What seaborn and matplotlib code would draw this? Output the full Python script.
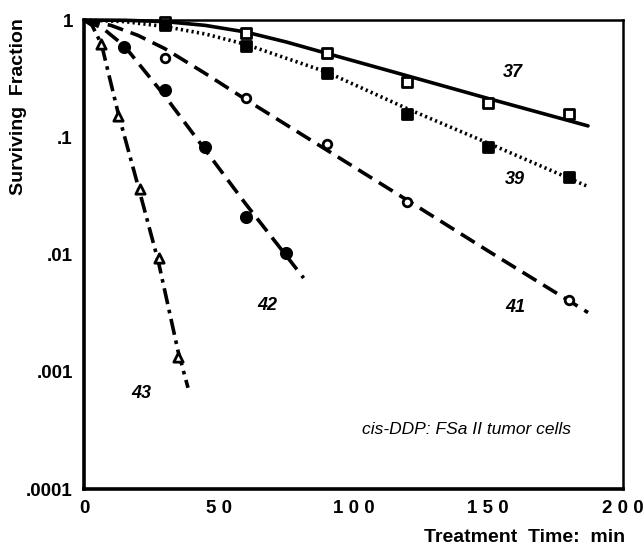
import seaborn as sns
import matplotlib.pyplot as plt
import numpy as np
import pandas as pd
from matplotlib.ticker import LogLocator, MultipleLocator, NullFormatter

sns.set_theme(style='white')
plt.rcParams['font.family'] = ['Liberation Sans', 'DejaVu Sans']
plt.rcParams['text.color'] = 'black'
plt.rcParams['xtick.color'] = 'black'
plt.rcParams['ytick.color'] = 'black'

# measured points (treatment time in min, surviving fraction)
t37 = [0, 30, 60, 90, 120, 150, 180]
s37 = [1.0, 0.97, 0.775, 0.52, 0.296, 0.197, 0.158]
t39 = [0, 30, 60, 90, 120, 150, 180]
s39 = [1.0, 0.90, 0.60, 0.355, 0.158, 0.083, 0.046]
t41 = [0, 30, 60, 90, 120, 180]
s41 = [1.0, 0.475, 0.217, 0.088, 0.028, 0.0041]
t42 = [0, 15, 30, 45, 60, 75]
s42 = [1.0, 0.59, 0.254, 0.082, 0.0207, 0.0104]
t43 = [0, 6.5, 12.7, 20.7, 27.7, 34.9]
s43 = [1.0, 0.62, 0.152, 0.036, 0.0094, 0.00133]

# fitted curves
ft37 = [0, 15, 30, 45, 60, 75, 90, 120, 150, 187]
fs37 = [1.0, 0.995, 0.97, 0.90, 0.79, 0.65, 0.52, 0.334, 0.214, 0.125]
ft39 = [0, 15, 30, 45, 60, 90, 120, 150, 187]
fs39 = [1.0, 0.97, 0.88, 0.76, 0.62, 0.36, 0.175, 0.089, 0.038]
ft41 = [0, 10, 20, 30, 45, 60, 90, 120, 150, 187]
fs41 = [1.0, 0.90, 0.74, 0.57, 0.35, 0.21, 0.078, 0.029, 0.0107, 0.0032]
ft42 = [0, 7, 15, 30, 45, 60, 75, 81.5]
fs42 = [1.0, 0.85, 0.60, 0.225, 0.078, 0.027, 0.0098, 0.0063]
ft43 = [0, 3, 6.5, 12.7, 20.7, 27.7, 34.9, 38.6]
fs43 = [1.0, 0.9, 0.62, 0.16, 0.034, 0.0085, 0.0015, 0.00073]

labels = ['37', '39', '41', '42', '43']
label_x = [159, 160, 160, 68, 21.4]
label_y = [0.354, 0.044, 0.0035, 0.0037, 0.00065]

xticks = [0, 50, 100, 150, 200]
xticklabels = ['0', '5 0', '1 0 0', '1 5 0', '2 0 0']
yticks = [1, 0.1, 0.01, 0.001, 0.0001]
yticklabels = ['1', '.1', '.01', '.001', '.0001']

fig = plt.figure(figsize=(6.43, 5.47), dpi=100)
ax = fig.add_axes([0.1306, 0.106, 0.8384, 0.8574])

lines = [
    (ft37, fs37, '-'),
    (ft39, fs39, (0, (0.6, 0.9))),
    (ft41, fs41, (0, (4.5, 2.2))),
    (ft42, fs42, (0, (4.5, 2.2))),
    (ft43, fs43, (0, (4.5, 1.6, 1, 1.6))),
]
for fx, fy, ls in lines:
    sns.lineplot(x=fx, y=fy, ax=ax, color='black', lw=2.6, linestyle=ls,
                 estimator=None, sort=False, clip_on=False)

pts = [
    (t37, s37, 's', 'white', 48),
    (t39, s39, 's', 'black', 55),
    (t41, s41, 'o', 'white', 38),
    (t42, s42, 'o', 'black', 55),
    (t43, s43, '^', 'white', 45),
]
for px, py, m, fc, sz in pts:
    sns.scatterplot(x=px[1:], y=py[1:], ax=ax, marker=m, s=sz, facecolor=fc,
                    edgecolor='black', linewidth=2, zorder=5, clip_on=False)

for lab, lx, ly in zip(labels, label_x, label_y):
    ax.text(lx, ly, lab, fontsize=13, fontweight='bold', fontstyle='italic',
            ha='center', va='center')
ax.text(142, 0.00032, 'cis-DDP: FSa II tumor cells', fontsize=12.5,
        fontstyle='italic', ha='center', va='center')

ax.set_yscale('log')
ax.set_xlim(0, 200)
ax.set_ylim(0.0001, 1)
ax.set_xticks(xticks)
ax.set_xticklabels(xticklabels, fontsize=13.5, fontweight='bold')
ax.set_yticks(yticks)
ax.set_yticklabels(yticklabels, fontsize=13.5, fontweight='bold')
ax.xaxis.set_minor_locator(MultipleLocator(10))
ax.yaxis.set_minor_locator(LogLocator(base=10, subs=np.arange(2, 10)))
ax.yaxis.set_minor_formatter(NullFormatter())
ax.tick_params(axis='both', which='major', direction='in', length=7, width=2,
               color='black', pad=8)
ax.tick_params(axis='both', which='minor', direction='in', length=4, width=1.8,
               color='black')
ax.tick_params(top=False, right=False, which='both')
for side in ['left', 'bottom']:
    ax.spines[side].set_linewidth(2.6)
for side in ['top', 'right']:
    ax.spines[side].set_linewidth(1.8)
for sp in ax.spines.values():
    sp.set_color('black')
ax.set_xlabel('')
ax.set_ylabel('')

fig.text(19 / 643, 1 - 107 / 547, 'Surviving  Fraction', rotation=90,
         fontsize=14, fontweight='bold', ha='center', va='center')
fig.text(625 / 643, 1 - 538 / 547, 'Treatment  Time:  min', fontsize=14,
         fontweight='bold', ha='right', va='center')

plt.savefig('out.png', dpi=100)
